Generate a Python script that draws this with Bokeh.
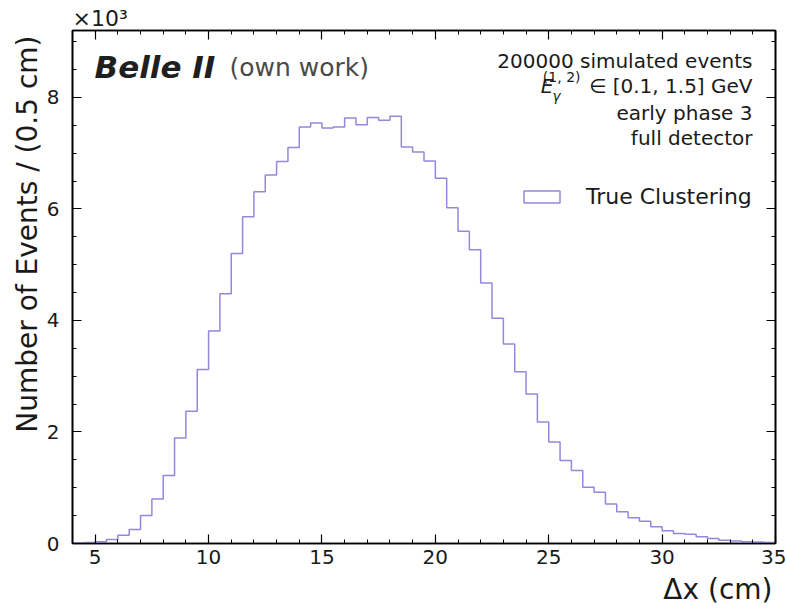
import numpy as np
from bokeh.plotting import figure
from bokeh.models import (Range1d, FixedTicker, LinearAxis, Label, Legend, LegendItem,
                          Title, ColumnDataSource)
from bokeh.embed import file_html
from bokeh.resources import INLINE

# Histogram of cluster separation, 0.5 cm bins from 4 to 35 cm
bin_lo = 4.0
bin_hi = 35.0
counts = [
    10, 20, 30, 70, 150, 250, 500, 800, 1220, 1890,
    2370, 3120, 3810, 4480, 5200, 5860, 6310, 6610, 6850, 7100,
    7470, 7540, 7450, 7470, 7630, 7510, 7640, 7590, 7660, 7110,
    7020, 6860, 6550, 6020, 5600, 5270, 4670, 4040, 3580, 3080,
    2680, 2180, 1820, 1490, 1310, 1010, 920, 710, 570, 460,
    400, 300, 230, 180, 165, 120, 90, 60, 45, 30,
    25, 20,
]
x_major = [5, 10, 15, 20, 25, 30, 35]
x_minor = list(range(4, 36))
y_major = [0, 2000, 4000, 6000, 8000]
y_minor = [v * 500 for v in range(0, 19)]
y_labels = {0: "0", 2000: "2", 4000: "4", 6000: "6", 8000: "8"}
series_name = "True Clustering"
info_lines = ["200000 simulated events", "early phase 3", "full detector"]

FONT = "DejaVu Sans"
LINE = "#9488dd"
INK = "#1a1a1a"

edges = np.linspace(bin_lo, bin_hi, len(counts) + 1)
y_top = 9200

hist = ColumnDataSource(dict(left=edges[:-1], right=edges[1:], top=counts,
                             bottom=[0] * len(counts)))

p = figure(width=786, height=610, output_backend="svg", toolbar_location=None,
           x_range=Range1d(bin_lo, bin_hi), y_range=Range1d(0, y_top),
           min_border_left=72, min_border_right=11, min_border_top=30,
           min_border_bottom=67)
p.grid.visible = False
p.outline_line_color = "black"
p.outline_line_width = 1.6
p.background_fill_color = "white"
p.border_fill_color = "white"

xt = FixedTicker(ticks=x_major, minor_ticks=x_minor)
yt = FixedTicker(ticks=y_major, minor_ticks=y_minor)


def style_axis(ax, show_labels):
    ax.major_tick_in = 9
    ax.major_tick_out = 0
    ax.minor_tick_in = 4
    ax.minor_tick_out = 0
    ax.axis_line_color = "black"
    ax.axis_line_width = 1.6
    ax.major_tick_line_width = 1.2
    ax.minor_tick_line_width = 1.0
    ax.major_label_text_font = FONT
    ax.major_label_text_color = INK
    if show_labels:
        ax.major_label_text_font_size = "20px"
    else:
        ax.major_label_text_font_size = "0px"
        ax.major_label_standoff = 0


p.xaxis.ticker = xt
p.yaxis.ticker = yt
p.yaxis.major_label_overrides = y_labels
style_axis(p.xaxis[0], True)
style_axis(p.yaxis[0], True)
p.xaxis.major_label_standoff = 6
p.yaxis.major_label_standoff = 13

top_axis = LinearAxis(ticker=xt)
right_axis = LinearAxis(ticker=yt)
style_axis(top_axis, False)
style_axis(right_axis, False)
top_axis.major_label_overrides = {t: "" for t in x_major}
right_axis.major_label_overrides = {t: "" for t in y_major}
p.add_layout(top_axis, "above")
p.add_layout(right_axis, "right")

# step outline of the histogram
p.step(x=edges, y=list(counts) + [counts[-1]], mode="after",
       line_color=LINE, line_width=1.5)

# hidden bar version of the same histogram; only its legend swatch is shown
bars = p.quad(left="left", right="right", top="top", bottom="bottom", source=hist,
              fill_alpha=0, line_color=LINE, line_width=1.5)
bars.visible = False
legend = Legend(items=[LegendItem(label=series_name, renderers=[bars])],
                location=(447, 334), padding=0, margin=0, spacing=0,
                glyph_width=45, glyph_height=15, label_standoff=22,
                label_text_font=FONT, label_text_font_size="22px",
                label_text_color=INK, border_line_alpha=0,
                background_fill_alpha=0, inactive_fill_alpha=0)
p.add_layout(legend)

# Belle II tag
p.add_layout(Label(x=bin_lo, y=y_top, x_offset=22, y_offset=-36, text="Belle II",
                   text_font=FONT, text_font_size="31px", text_font_style="bold italic",
                   text_color="#1f1f1f", text_baseline="middle"))
p.add_layout(Label(x=bin_lo, y=y_top, x_offset=157, y_offset=-37, text="(own work)",
                   text_font=FONT, text_font_size="25px", text_color="#4a4a4a",
                   text_baseline="middle"))


# run information, right aligned
def info(text, dy, size="20px", dx=-23, style="normal"):
    p.add_layout(Label(x=bin_hi, y=y_top, x_offset=dx, y_offset=dy, text=text,
                       text_font=FONT, text_font_size=size, text_font_style=style,
                       text_color=INK, text_align="right", text_baseline="middle"))


info(info_lines[0], -30)
info("\u2208 [0.1, 1.5] GeV", -55)
info("E", -55, dx=-222, style="italic")
info("(1, 2)", -46, size="14px", dx=-195)
info("\u03b3", -65, size="14px", dx=-215, style="italic")
info(info_lines[1], -82)
info(info_lines[2], -107)

# axis titles and offset factor
p.add_layout(Title(text="\u00d710\u00b3", align="left", text_font=FONT,
                   text_font_size="22px", text_font_style="normal",
                   text_color=INK, standoff=0), "above")
p.add_layout(Title(text="\u0394x (cm)", align="right", text_font=FONT,
                   text_font_size="28px", text_font_style="normal",
                   text_color=INK, offset=3, standoff=9), "below")
p.add_layout(Title(text="Number of Events / (0.5 cm)", align="right", text_font=FONT,
                   text_font_size="28px", text_font_style="normal",
                   text_color=INK, offset=5, standoff=0), "left")

open("out.html", "w").write(file_html(p, INLINE))
